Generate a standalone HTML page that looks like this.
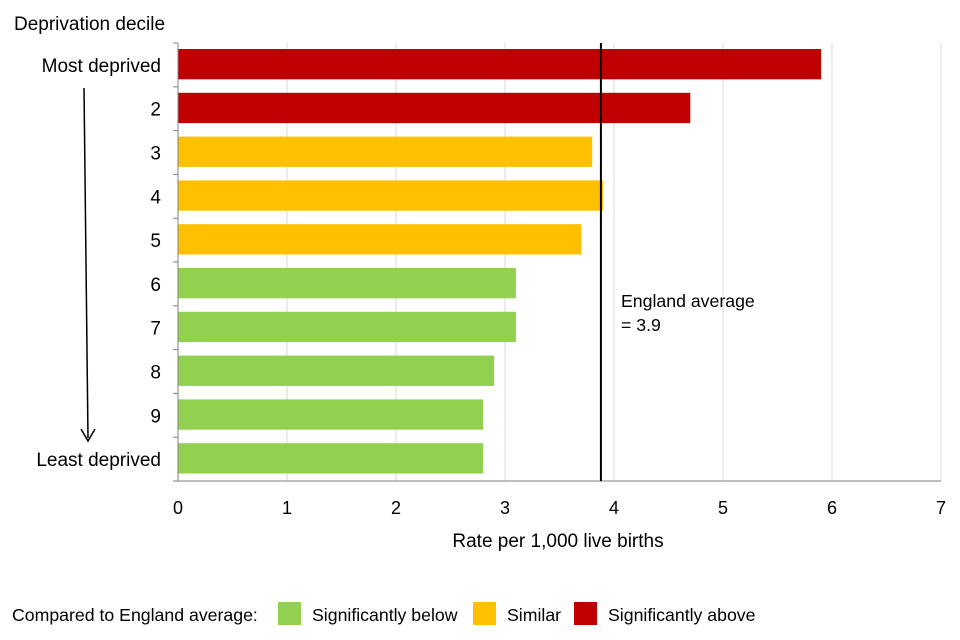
<!DOCTYPE html>
<html><head><meta charset="utf-8"><style>
body{margin:0;background:#fff;width:960px;height:640px;overflow:hidden}
svg text{font-family:"Liberation Sans",Arial,sans-serif;font-size:19px;fill:#000}
svg text.leg{font-size:17.7px}
svg text.tick{font-size:18px}
</style></head><body>
<svg id="chart" width="960" height="640" xmlns="http://www.w3.org/2000/svg" style="position:absolute;left:0;top:0"></svg>
<script>
const categories=["Most deprived","2","3","4","5","6","7","8","9","Least deprived"];
const values=[5.9,4.7,3.8,3.9,3.7,3.1,3.1,2.9,2.8,2.8];
const groups=["above","above","similar","similar","similar","below","below","below","below","below"];
const xTicks=[0,1,2,3,4,5,6,7];
const englandAvg=3.88;
const colors={above:"#c00000",similar:"#ffc000",below:"#92d050"};
const svgEl=document.getElementById('chart');
const NS="http://www.w3.org/2000/svg";
const x0=178,x1=941,yTop=43,yBottom=481;
const xs=v=>x0+(x1-x0)*v/7;
const rowH=(yBottom-yTop)/categories.length;
function mk(t,a,txt){const e=document.createElementNS(NS,t);for(const k in a)e.setAttribute(k,a[k]);if(txt!==undefined)e.textContent=txt;svgEl.appendChild(e);return e;}
xTicks.forEach(t=>{
 if(t>0){const g=mk('line',{x1:xs(t),x2:xs(t),y1:yTop,y2:yBottom,stroke:'#d9d9d9','stroke-width':1});
 
 }
 const l=mk('text',{x:xs(t),y:514,'text-anchor':'middle','class':'tick'},String(t));
 
 
});
categories.forEach((c,i)=>{
 const y=yTop+i*rowH;
 const b=mk('rect',{x:x0,y:y+6,width:xs(values[i])-x0,height:rowH-13.5,fill:colors[groups[i]]});
 
 
 const l=mk('text',{x:161,y:y+rowH/2+7,'text-anchor':'end'},c);
 
 
});
for(let i=0;i<=categories.length;i++){
 const y=yTop+i*rowH;
 const t=mk('line',{x1:173,x2:x0,y1:y,y2:y,stroke:'#808080'});
 
 
}
const ax=mk('line',{x1:x0,x2:x0,y1:yTop,y2:yBottom,stroke:'#808080'});


const axb=mk('line',{x1:x0,x2:x1,y1:yBottom,y2:yBottom,stroke:'#808080'});


const avg=mk('line',{x1:xs(englandAvg),x2:xs(englandAvg),y1:yTop,y2:yBottom,stroke:'#000','stroke-width':2});


</script>
<svg style="position:absolute;left:0;top:0" width="960" height="640">
<text x="14" y="30">Deprivation decile</text>
<line x1="84" y1="88" x2="88" y2="438" stroke="#000" stroke-width="1.5"/>
<path d="M81,429 L88,441 L95,429" fill="none" stroke="#000" stroke-width="1.5"/>
<text x="621" y="307" class="leg">England average</text>
<text x="621" y="331" class="leg">= 3.9</text>
<text x="558" y="547" text-anchor="middle">Rate per 1,000 live births</text>
<text x="12" y="621" class="leg">Compared to England average:</text>
<rect x="278" y="602" width="23" height="23" fill="#92d050"/>
<text x="312" y="621" class="leg">Significantly below</text>
<rect x="473" y="602" width="23" height="23" fill="#ffc000"/>
<text x="507" y="621" class="leg">Similar</text>
<rect x="574" y="602" width="23" height="23" fill="#c00000"/>
<text x="608" y="621" class="leg">Significantly above</text>
</svg>
</body></html>
